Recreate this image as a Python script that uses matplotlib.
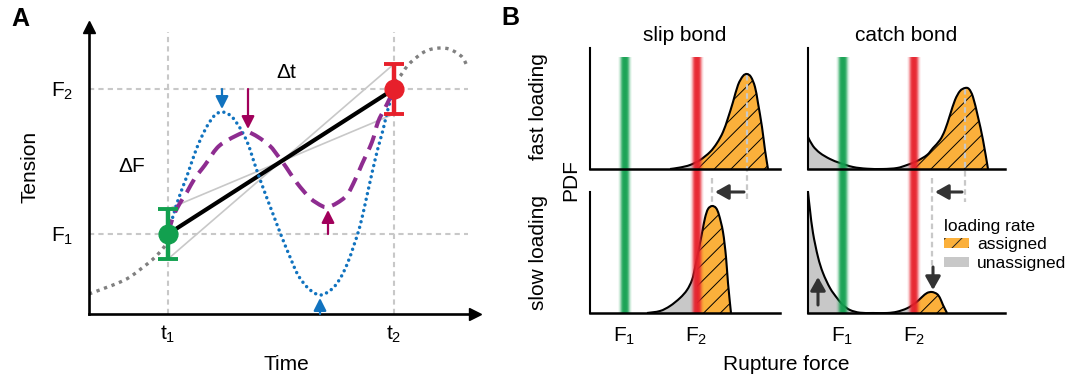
import numpy as np
import matplotlib

matplotlib.use("Agg")
import matplotlib.pyplot as plt
from matplotlib.colors import to_rgb
from matplotlib.patches import Patch, PathPatch, Rectangle
from matplotlib.path import Path

plt.rcParams["font.family"] = ["Liberation Sans", "DejaVu Sans"]
plt.rcParams["mathtext.fontset"] = "custom"
plt.rcParams["mathtext.rm"] = "Liberation Sans"
plt.rcParams["mathtext.it"] = "Liberation Sans:italic"
plt.rcParams["hatch.linewidth"] = 0.7
plt.rcParams["hatch.color"] = "#222222"

W, H = 1070, 378

# ---- panel A: tension between two observations (arbitrary units) ----
T_OBS = [79, 305]      # t1, t2
F_OBS = [80, 225]      # F1, F2
F_ERR = 25

# underlying tension, visible only outside [t1, t2]
TRUE_LEFT_T = [0, 16, 29, 41, 53, 63, 71, 79]
TRUE_LEFT_F = [20, 26, 31, 37, 46, 54, 62, 72]
TRUE_RIGHT_T = [306, 312, 316, 321, 328, 335, 343, 352, 360, 368, 374, 378]
TRUE_RIGHT_F = [232, 239, 245, 251, 257, 262, 265, 266, 265, 261, 256, 248]

# fast oscillating path (blue dotted)
FAST_T = [79, 88, 98, 107, 116, 125, 133, 142, 151, 159, 167, 176, 184, 192, 201,
          209, 219, 231, 243, 252, 259, 265, 271, 277, 283, 289, 294, 299, 305]
FAST_F = [80, 111, 138, 164, 184, 198, 202, 198, 186, 170, 146, 121, 100, 79, 57,
          39, 26, 19, 25, 37, 52, 69, 88, 114, 141, 166, 184, 205, 225]

# slower oscillating path (purple dashed)
SLOW_T = [79, 84, 91, 98, 106, 116, 128, 139, 153, 159, 169, 181, 189, 197, 208,
          221, 233, 239, 248, 258, 266, 273, 283, 289, 296, 300, 305]
SLOW_F = [80, 97, 111, 122, 136, 149, 166, 174, 181, 182, 177, 168, 158, 147, 131,
          116, 108, 107, 111, 119, 134, 150, 172, 192, 206, 214, 225]

# ---- panel B: rupture force PDFs (arbitrary units) ----
RF_F1, RF_F2 = 34.5, 106.5

SLIP_FAST_X = [80, 90, 100, 110, 120, 127, 133, 138, 143, 148, 153, 157, 161, 165, 168, 172, 175, 178]
SLIP_FAST_Y = [0, 1.5, 4, 9, 17, 26, 37, 51, 67, 84, 93, 95, 92, 82, 66, 42, 19, 0]
SLIP_SLOW_X = [57, 70, 80, 90, 97, 102, 105, 108, 112, 115, 118, 122, 126, 129, 133, 136, 138, 141]
SLIP_SLOW_Y = [0, 2, 7, 15, 23, 33, 45, 60, 80, 95, 104, 107, 105, 98, 81, 56, 30, 0]
CATCH_FAST_X = [0, 5, 12, 22, 32, 45, 59, 75, 89, 99, 109, 119, 125, 132, 137, 142, 147,
                152, 157, 161, 165, 170, 175, 180]
CATCH_FAST_Y = [32, 23, 16, 10, 6, 2, 0.3, 0, 1, 4, 8, 14, 21, 29, 39, 54, 69,
                78, 81, 80, 72, 52, 29, 0]
CATCH_SLOW_X = [0, 2, 5, 10, 15, 22, 29, 35, 42, 52, 65, 79, 89, 99, 107, 114, 119, 124,
                129, 132, 135, 139]
CATCH_SLOW_Y = [121, 103, 80, 56, 40, 25, 15, 8, 3, 0.3, 0, 0, 1.3, 4.7, 9.7, 16, 20, 21,
                19, 15, 8, 0]

GREEN = "#12a04f"
RED = "#e7202b"
BLUE = "#1173bf"
PURPLE = "#8e2c90"
MAGENTA = "#a1005b"
ORANGE = "#fbb03b"
LIGHT = "#c8c8c8"
DARK = "#333333"
BAND_ALPHA = [0.06, 0.22, 0.5, 0.8, 0.93, 0.96, 0.96, 0.93, 0.8, 0.5, 0.22, 0.06]
BAND_HALF = 7


def box(left, top, right, bottom):
    return [left / W, 1 - bottom / H, (right - left) / W, (bottom - top) / H]


def curve_path(xs, ys, close_to=None):
    """Smooth Bezier path through the read points (Catmull-Rom tangents)."""
    pts = np.column_stack([xs, ys]).astype(float)
    n = len(pts)
    verts, codes = [pts[0]], [Path.MOVETO]
    for i in range(n - 1):
        p0, p1 = pts[max(i - 1, 0)], pts[i]
        p2, p3 = pts[i + 1], pts[min(i + 2, n - 1)]
        verts += [p1 + (p2 - p0) / 6, p2 - (p3 - p1) / 6, p2]
        codes += [Path.CURVE4] * 3
    if close_to is not None:
        verts += [(pts[-1, 0], close_to), (pts[0, 0], close_to), pts[0]]
        codes += [Path.LINETO, Path.LINETO, Path.CLOSEPOLY]
    return Path(verts, codes)


def arrow(ax, start, tip, color, lw=1.6, head=(0.75, 0.38)):
    ax.annotate("", xy=tip, xytext=start, annotation_clip=False,
                arrowprops=dict(arrowstyle=f"-|>,head_length={head[0]},head_width={head[1]}",
                                color=color, lw=lw, shrinkA=0, shrinkB=0))


fig = plt.figure(figsize=(W / 100, H / 100), dpi=100)

# ================= panel A =================
axA = fig.add_axes(box(89, 27, 475, 314))
axA.set_xlim(0, 386)
axA.set_ylim(0, 287)
for side in ("top", "right"):
    axA.spines[side].set_visible(False)
for side in ("left", "bottom"):
    axA.spines[side].set_linewidth(1.9)
axA.plot(1, 0, ">k", ms=8, transform=axA.transAxes, clip_on=False)
axA.plot(0, 1, "^k", ms=8, transform=axA.transAxes, clip_on=False)

grid_kw = dict(color=LIGHT, lw=1.5, linestyle=(0, (2.5, 2)), zorder=1)
for t in T_OBS:
    axA.plot([t, t], [0, 282], **grid_kw)
for f in F_OBS:
    axA.plot([0, 379], [f, f], **grid_kw)

# extreme slopes allowed by the error bars
axA.plot(T_OBS, [F_OBS[0] - F_ERR, F_OBS[1] + F_ERR], color=LIGHT, lw=1.2, zorder=2)
axA.plot(T_OBS, [F_OBS[0] + F_ERR, F_OBS[1] - F_ERR], color=LIGHT, lw=1.2, zorder=2)

for ts, fs in ((TRUE_LEFT_T, TRUE_LEFT_F), (TRUE_RIGHT_T, TRUE_RIGHT_F)):
    p = PathPatch(curve_path(ts, fs), fill=False, edgecolor="#808080", lw=2.4,
                  linestyle=(0, (1, 1.4)), zorder=2)
    p.set_capstyle("butt")
    axA.add_patch(p)

axA.plot(T_OBS, F_OBS, color="k", lw=3, zorder=3, solid_capstyle="butt")

p = PathPatch(curve_path(FAST_T, FAST_F), fill=False, edgecolor=BLUE, lw=2.5,
              linestyle=(0, (0.01, 1.65)), zorder=4)
p.set_capstyle("round")
axA.add_patch(p)
p = PathPatch(curve_path(SLOW_T, SLOW_F), fill=False, edgecolor=PURPLE, lw=2.9,
              linestyle=(0, (3.7, 2)), zorder=4)
p.set_capstyle("butt")
axA.add_patch(p)

for t, f, c in zip(T_OBS, F_OBS, (GREEN, RED)):
    axA.errorbar(t, f, yerr=F_ERR, fmt="o", color=c, ms=13.5, elinewidth=3.2,
                 capsize=7.5, capthick=2.8, zorder=6)

# arrows marking the extremes of each oscillating path
half = len(FAST_F) // 2
i = int(np.argmax(FAST_F[:half]))
arrow(axA, (FAST_T[i], F_OBS[1]), (FAST_T[i], FAST_F[i] + 3), BLUE)
i = int(np.argmin(FAST_F))
arrow(axA, (FAST_T[i], 0), (FAST_T[i], FAST_F[i] - 3), BLUE)
half = len(SLOW_F) // 2
i = int(np.argmax(SLOW_F[:half]))
arrow(axA, (SLOW_T[i], F_OBS[1]), (SLOW_T[i], SLOW_F[i] + 3), MAGENTA)
i = int(np.argmin(SLOW_F[half:])) + half
arrow(axA, (SLOW_T[i], F_OBS[0]), (SLOW_T[i], SLOW_F[i] - 3), MAGENTA)

axA.text(43, 148, "ΔF", fontsize=15, ha="center", va="center")
axA.text(197, 242, "Δt", fontsize=15, ha="center", va="center")

axA.set_xticks(T_OBS, [r"$\mathregular{t_1}$", r"$\mathregular{t_2}$"])
axA.set_yticks(F_OBS, [r"$\mathregular{F_1}$", r"$\mathregular{F_2}$"])
axA.tick_params(axis="x", length=0, pad=7, labelsize=15)
axA.tick_params(axis="y", length=0, pad=11, labelsize=15)
fig.text(286 / W, 1 - 364 / H, "Time", fontsize=15, ha="center", va="center")
fig.text(30 / W, 1 - 167 / H, "Tension", fontsize=15, ha="center", va="center", rotation=90)

# ================= panel B =================
axes_B = {
    "slip_fast": fig.add_axes(box(590, 48, 780, 169)),
    "slip_slow": fig.add_axes(box(590, 192, 780, 313)),
    "catch_fast": fig.add_axes(box(808, 48, 1005, 169)),
    "catch_slow": fig.add_axes(box(808, 192, 1005, 313)),
}
curves_B = {
    "slip_fast": (SLIP_FAST_X, SLIP_FAST_Y),
    "slip_slow": (SLIP_SLOW_X, SLIP_SLOW_Y),
    "catch_fast": (CATCH_FAST_X, CATCH_FAST_Y),
    "catch_slow": (CATCH_SLOW_X, CATCH_SLOW_Y),
}


def draw_band(ax, x, color, y0, y1):
    rgba = np.zeros((1, len(BAND_ALPHA), 4))
    rgba[..., :3] = to_rgb(color)
    rgba[..., 3] = BAND_ALPHA
    ax.imshow(rgba, extent=[x - BAND_HALF, x + BAND_HALF, y0, y1], aspect="auto",
              interpolation="bilinear", zorder=4, clip_on=False)


for key, ax in axes_B.items():
    xs, ys = curves_B[key]
    fill = curve_path(xs, ys, close_to=0)
    # unassigned (below F2) in grey, assigned (above F2) in hatched orange
    for color, hatch, x0, x1 in ((LIGHT, None, -20, RF_F2), (ORANGE, "//", RF_F2, 300)):
        p = ax.add_patch(PathPatch(fill, facecolor=color, hatch=hatch, lw=0, zorder=1))
        p.set_clip_path(Rectangle((x0, -10), x1 - x0, 200, transform=ax.transData))
    ax.add_patch(PathPatch(curve_path(xs, ys), fill=False, edgecolor="k", lw=1.5, zorder=3))

    top = key.endswith("fast")
    y0, y1 = (-23, 112) if top else (0, 121)
    draw_band(ax, RF_F1, GREEN, y0, y1)
    draw_band(ax, RF_F2, RED, y0, y1)

    ax.set_xlim(0, 190 if key.startswith("slip") else 197)
    ax.set_ylim(0, 121)
    ax.patch.set_visible(False)
    for side in ("top", "right"):
        ax.spines[side].set_visible(False)
    ax.spines["left"].set_linewidth(1.5)
    ax.spines["bottom"].set_linewidth(1.8)
    ax.spines["bottom"].set_zorder(5)
    ax.set_yticks([])
    if top:
        ax.set_xticks([])
    else:
        ax.set_xticks([RF_F1, RF_F2], [r"$\mathregular{F_1}$", r"$\mathregular{F_2}$"])
        ax.tick_params(axis="x", length=0, pad=9, labelsize=15)

dash_kw = dict(color=LIGHT, lw=1.6, linestyle=(0, (2.5, 1.6)), zorder=2, clip_on=False)
for fast_key, slow_key in (("slip_fast", "slip_slow"), ("catch_fast", "catch_slow")):
    fx, fy = curves_B[fast_key]
    sx, sy = curves_B[slow_key]
    jf = int(np.argmax(fy))
    js = int(np.argmax(np.where(np.array(sx) > RF_F2, sy, -1)))
    axes_B[fast_key].plot([fx[jf], fx[jf]], [fy[jf] - 1, -33], **dash_kw)
    ax_s = axes_B[slow_key]
    arrow(ax_s, (fx[jf] - 3, 121), (sx[js] + 3, 121), DARK, lw=2.2, head=(0.8, 0.45))
    if sy[js] > 60:
        ax_s.plot([sx[js], sx[js]], [135, sy[js] + 1], **dash_kw)
    else:
        ax_s.plot([sx[js], sx[js]], [135, sy[js] + 25], **dash_kw)
        arrow(ax_s, (sx[js] + 1, sy[js] + 25), (sx[js] + 1, sy[js] + 2), DARK, lw=2.2,
              head=(0.8, 0.45))

arrow(axes_B["catch_slow"], (10, 8), (10, 36), DARK, lw=2.2, head=(0.8, 0.45))

axes_B["slip_fast"].set_title("slip bond", fontsize=15, pad=5)
axes_B["catch_fast"].set_title("catch bond", fontsize=15, pad=5)
fig.text(538 / W, 1 - 107 / H, "fast loading", fontsize=15, ha="center", va="center", rotation=90)
fig.text(538 / W, 1 - 253 / H, "slow loading", fontsize=15, ha="center", va="center", rotation=90)
fig.text(571 / W, 1 - 180 / H, "PDF", fontsize=15, ha="center", va="center", rotation=90)
fig.text(786 / W, 1 - 364 / H, "Rupture force", fontsize=15, ha="center", va="center")

handles = [Patch(facecolor=ORANGE, hatch="//", label="assigned"),
           Patch(facecolor=LIGHT, label="unassigned")]
fig.legend(handles=handles, title="loading rate", loc="upper left",
           bbox_to_anchor=(944 / W, 1 - 219 / H), frameon=False, fontsize=12.5,
           title_fontsize=12.5, alignment="left", handlelength=1.45, handleheight=0.5,
           handletextpad=0.45, labelspacing=0.2, borderpad=0, borderaxespad=0)

fig.text(20 / W, 1 - 19 / H, "A", fontsize=18, fontweight="bold", ha="center", va="center")
fig.text(510 / W, 1 - 18 / H, "B", fontsize=18, fontweight="bold", ha="center", va="center")

fig.savefig("out.png", dpi=100)
